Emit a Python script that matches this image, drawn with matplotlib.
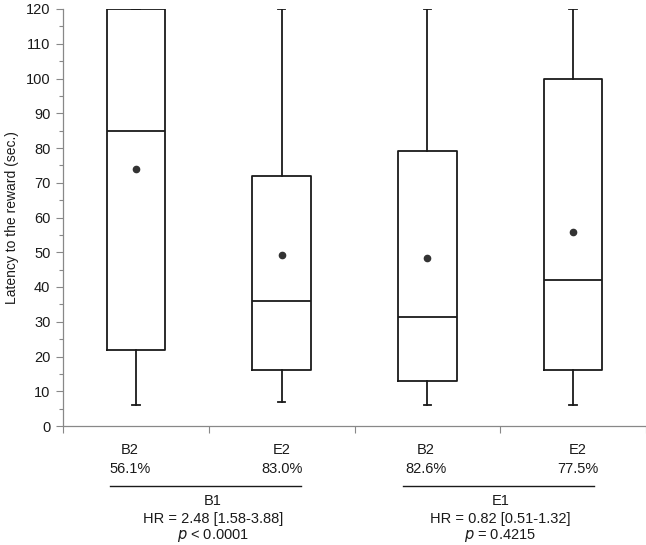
import matplotlib
matplotlib.use("Agg")
import matplotlib.pyplot as plt
import matplotlib.transforms as mtransforms
from matplotlib.ticker import MultipleLocator

plt.rcParams['font.family'] = ['Liberation Sans', 'DejaVu Sans']

categories = ["B2", "E2", "B2", "E2"]
percent_labels = ["56.1%", "83.0%", "82.6%", "77.5%"]
whisker_low = [6, 7, 6, 6]
q1 = [22, 16, 13, 16]
median = [85, 36, 31.5, 42]
q3 = [120, 72, 79, 100]
whisker_high = [120, 120, 120, 120]
means = [74, 49.2, 48.4, 55.7]
group_names = ["B1", "E1"]
hr_labels = ["HR = 2.48 [1.58-3.88]", "HR = 0.82 [0.51-1.32]"]
p_labels = [r"$p$ < 0.0001", r"$p$ = 0.4215"]

W, H = 646, 545
fig = plt.figure(figsize=(W / 100, H / 100), dpi=100)
ax = fig.add_axes([63 / W, 1 - 426 / H, (646 - 63) / W, 417 / H])

stats = []
for i in range(len(categories)):
    stats.append(dict(whislo=whisker_low[i], q1=q1[i], med=median[i], q3=q3[i],
                      whishi=whisker_high[i], mean=means[i], fliers=[]))
positions = list(range(1, len(categories) + 1))
lc = "#1a1a1a"
ax.bxp(stats, positions=positions, widths=0.4, showmeans=True, showfliers=False,
       capwidths=0.05,
       boxprops=dict(color=lc, linewidth=1.3),
       medianprops=dict(color=lc, linewidth=1.3),
       whiskerprops=dict(color=lc, linewidth=1.3),
       capprops=dict(color=lc, linewidth=1.3),
       meanprops=dict(marker='o', markerfacecolor='#333333', markeredgecolor='#333333',
                      markersize=4.5))

ax.set_xlim(0.5, 4.5)
ax.set_ylim(0, 120)
ax.yaxis.set_major_locator(MultipleLocator(10))
ax.yaxis.set_minor_locator(MultipleLocator(5))
ax.set_xticks([0.5, 1.5, 2.5, 3.5, 4.5])
ax.set_xticklabels([])
ax.tick_params(axis='x', length=5, color='#888888', width=0.8)
ax.tick_params(axis='y', which='major', length=5, color='#888888', width=0.8,
               labelsize=10.5, labelcolor='#1a1a1a', pad=4)
ax.tick_params(axis='y', which='minor', length=3, color='#888888', width=0.8)
for s in ['top', 'right']:
    ax.spines[s].set_visible(False)
for s in ['left', 'bottom']:
    ax.spines[s].set_color('#888888')
    ax.spines[s].set_linewidth(0.9)
ax.set_ylabel("Latency to the reward (sec.)", fontsize=10, color='#1a1a1a', labelpad=5)

trans = mtransforms.blended_transform_factory(ax.transData, fig.transFigure)
def fy(px):
    return 1 - px / H

fs = 10.5
label_x = [0.96, 2.0, 2.99, 4.03]
for i in range(len(categories)):
    ax.text(label_x[i], fy(450), categories[i], transform=trans, ha='center', va='center',
            fontsize=fs, color='#1a1a1a')
    ax.text(label_x[i], fy(469), percent_labels[i], transform=trans, ha='center', va='center',
            fontsize=fs, color='#1a1a1a')

line_spans = [(0.82, 2.13), (2.83, 4.14)]
group_x = [1.53, 3.5]
for g in range(len(group_names)):
    x0, x1 = line_spans[g]
    ax.plot([x0, x1], [fy(486), fy(486)], transform=trans, color='#1a1a1a', lw=1.0,
            clip_on=False)
    ax.text(group_x[g], fy(501), group_names[g], transform=trans, ha='center', va='center',
            fontsize=fs, color='#1a1a1a')
    ax.text(group_x[g], fy(519), hr_labels[g], transform=trans, ha='center', va='center',
            fontsize=fs, color='#1a1a1a')
    ax.text(group_x[g], fy(535), p_labels[g], transform=trans, ha='center', va='center',
            fontsize=fs, color='#1a1a1a')

fig.savefig("out.png", dpi=100)
